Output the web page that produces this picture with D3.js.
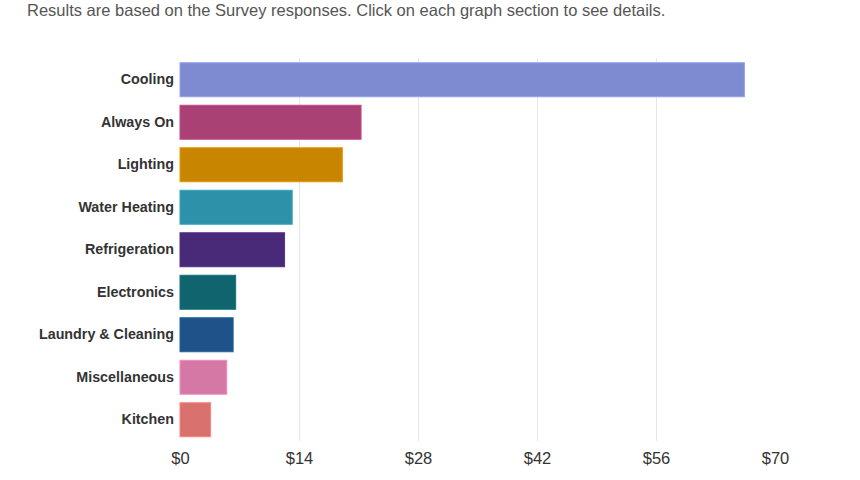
<!DOCTYPE html>
<html>
<head>
<meta charset="utf-8">
<script src="https://cdn.jsdelivr.net/npm/d3@7"></script>
<style>
  body { margin: 0; background: #fff; font-family: "Liberation Sans", Arial, sans-serif; }
  .note { position: absolute; left: 27px; top: 1px; font-size: 16.5px; color: #555; }
</style>
</head>
<body>
<div class="note">Results are based on the Survey responses. Click on each graph section to see details.</div>
<div class="usage-chart"></div>
<script>
// Data
const categories = ["Cooling", "Always On", "Lighting", "Water Heating", "Refrigeration",
    "Electronics", "Laundry & Cleaning", "Miscellaneous", "Kitchen"]
const costs = [66.4, 21.3, 19.1, 13.2, 12.3, 6.55, 6.25, 5.5, 3.6]
const barColors = ["#7f8bd1", "#a94174", "#c78500", "#2c91a9", "#482a78",
    "#10646e", "#1f5289", "#d578a6", "#d9716e"]
const xTicks = [0, 14, 28, 42, 56, 70]

const width = 860
const height = 480
const margin = { top: 58.5, right: 85, bottom: 39, left: 180 }

const rows = categories.map((c, i) => ({ name: c, cost: costs[i], color: barColors[i] }))

const svg = d3.select(".usage-chart")
    .append("svg")
    .attr("width", width)
    .attr("height", height)
    .style("display", "block")

// x, y scales
const x = d3.scaleLinear()
    .domain([0, 70])
    .range([margin.left, width - margin.right])
const y = d3.scaleBand()
    .domain(categories)
    .range([margin.top, height - margin.bottom])
    .paddingInner(0.2)
    .paddingOuter(0.1)

// vertical grid lines (not at $0 / $70)
svg.append("g")
    .selectAll("line")
    .data(xTicks.filter(t => t > 0 && t < 70))
    .join("line")
    .attr("x1", d => x(d) + 0.5)
    .attr("x2", d => x(d) + 0.5)
    .attr("y1", margin.top)
    .attr("y2", height - margin.bottom)
    .attr("stroke", "#e6e6e6")
    .attr("stroke-width", 1)

// bars
svg.append("g")
    .selectAll("rect")
    .data(rows)
    .join("rect")
    .attr("x", x(0))
    .attr("y", d => y(d.name))
    .attr("width", d => x(d.cost) - x(0))
    .attr("height", y.bandwidth())
    .attr("fill", d => d.color)
    .attr("stroke", d => d3.color(d.color).brighter(0.4))
    .attr("stroke-width", 1)

// y axis labels
const yAxis = d3.axisLeft(y).tickSize(0).tickPadding(6)
svg.append("g")
    .attr("transform", `translate(${margin.left}, 0)`)
    .call(yAxis)
    .call(g => g.select(".domain").remove())
    .selectAll("text")
    .attr("font-family", "'Liberation Sans', Arial, sans-serif")
    .attr("font-size", 14.3)
    .attr("font-weight", "bold")
    .attr("fill", "#333")

// x axis labels
const xAxis = d3.axisBottom(x)
    .tickValues(xTicks)
    .tickFormat(d => "$" + d)
    .tickSize(0)
    .tickPadding(11)
svg.append("g")
    .attr("transform", `translate(0, ${height - margin.bottom})`)
    .call(xAxis)
    .call(g => g.select(".domain").remove())
    .selectAll("text")
    .attr("font-family", "'Liberation Sans', Arial, sans-serif")
    .attr("font-size", 16.5)
    .attr("fill", "#333")
</script>
</body>
</html>
